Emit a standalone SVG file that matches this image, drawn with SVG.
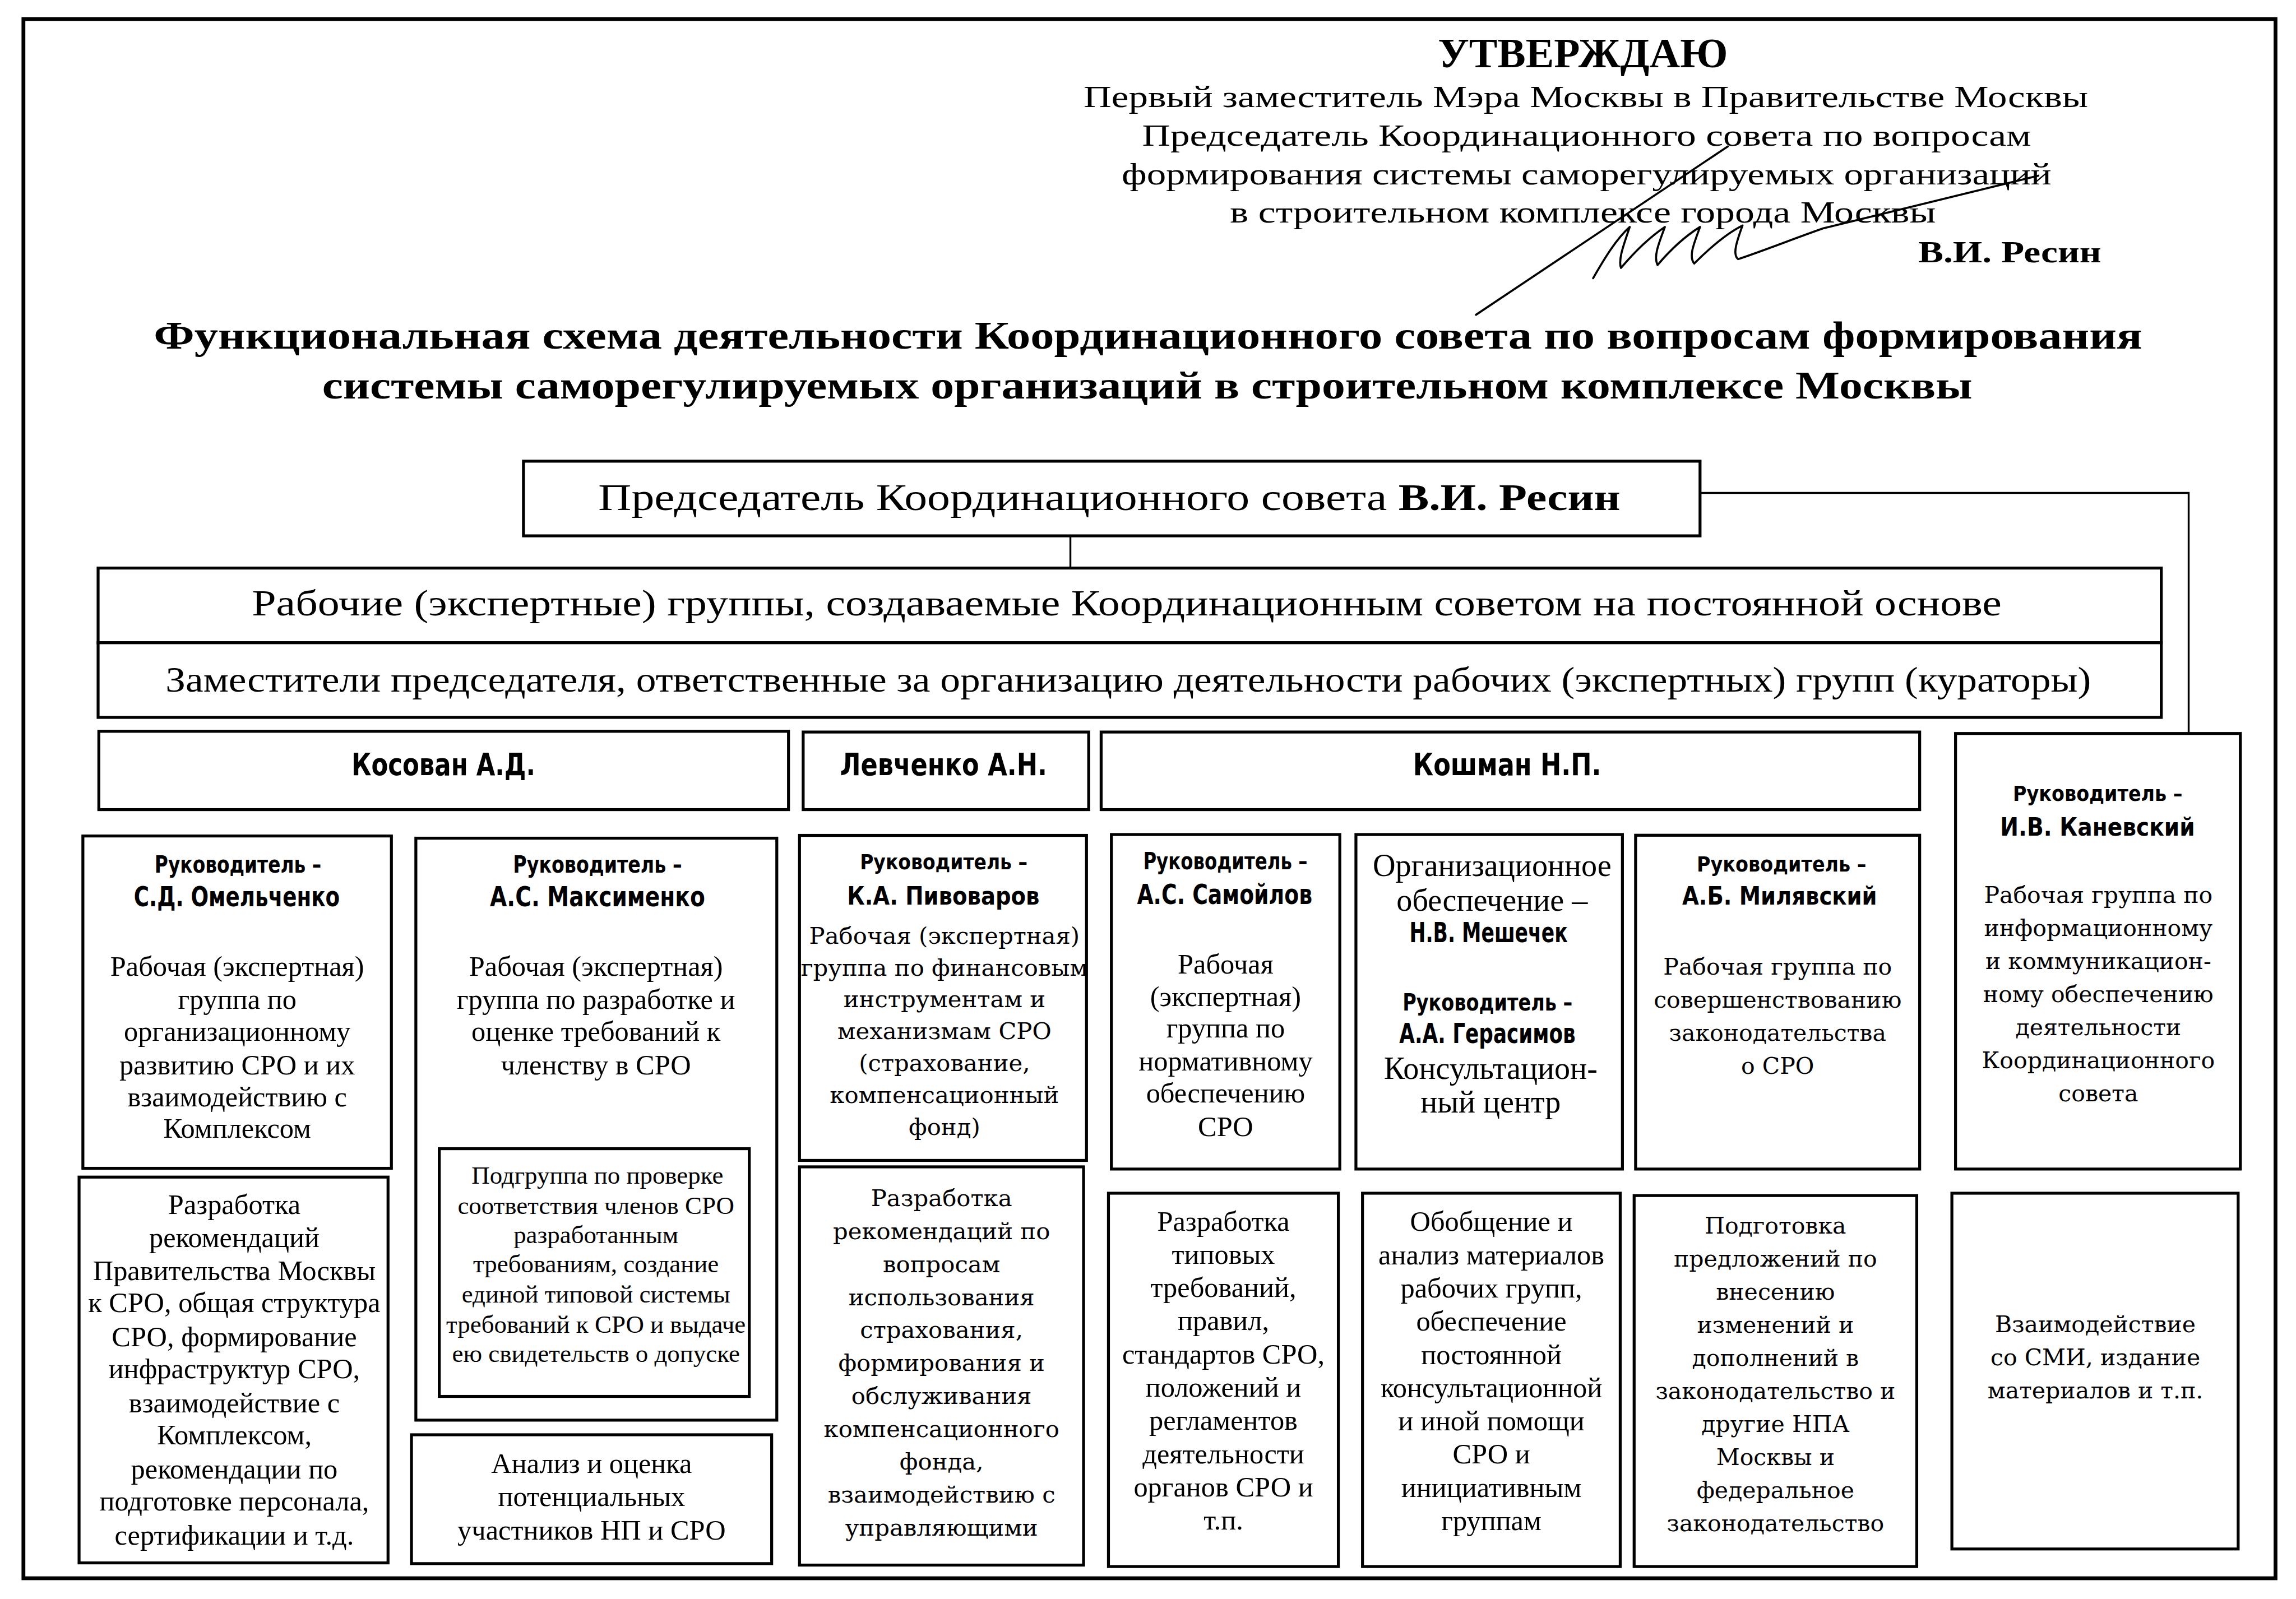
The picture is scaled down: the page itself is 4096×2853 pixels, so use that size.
<svg xmlns="http://www.w3.org/2000/svg" width="4096" height="2853" viewBox="0 0 4096 2853">
<style>
.box{fill:#fff;stroke:#000;stroke-width:2}
.frame{fill:none;stroke:#000;stroke-width:2.6}
.con{fill:none;stroke:#000;stroke-width:1.3}
.sig{fill:none;stroke:#000;stroke-width:1.4;stroke-linecap:round;stroke-linejoin:round}
text{fill:#000}
.tr{font-family:'Liberation Serif','Times New Roman',serif}
.trb{font-family:'Liberation Serif','Times New Roman',serif;font-weight:bold}
.body{font-family:'Liberation Serif','Times New Roman',serif;font-size:19.3px;text-anchor:middle}
.small{font-family:'Liberation Serif','Times New Roman',serif;font-size:17.2px;text-anchor:middle}
.big{font-family:'Liberation Serif','Times New Roman',serif;font-size:21.5px;text-anchor:middle}
.cond{font-family:'Liberation Sans Narrow','DejaVu Sans Condensed','Liberation Sans',sans-serif;font-weight:bold}
.heavy{font-family:'DejaVu Sans','Liberation Sans',sans-serif;font-weight:bold}
.wide{font-family:'DejaVu Serif','Liberation Serif',serif;font-size:16px;text-anchor:middle}
.wide2{font-family:'DejaVu Serif','Liberation Serif',serif;font-size:15.7px;text-anchor:middle}
</style>
<rect x="0" y="0" width="4096" height="2853" fill="#fff"/>
<g transform="scale(2.61224)">
<rect class="frame" x="16" y="13" width="1538" height="1065"/>

<g id="approval">
<text class="trb" x="982" y="46" font-size="28" textLength="198" lengthAdjust="spacingAndGlyphs">УТВЕРЖДАЮ</text>
<text class="tr" x="740" y="73" font-size="21" textLength="686" lengthAdjust="spacingAndGlyphs">Первый заместитель Мэра Москвы в Правительстве Москвы</text>
<text class="tr" x="780" y="99.5" font-size="21" textLength="607" lengthAdjust="spacingAndGlyphs">Председатель Координационного совета по вопросам</text>
<text class="tr" x="766" y="126" font-size="21" textLength="635" lengthAdjust="spacingAndGlyphs">формирования системы саморегулируемых организаций</text>
<text class="tr" x="840" y="152" font-size="21" textLength="482" lengthAdjust="spacingAndGlyphs">в строительном комплексе города Москвы</text>
<text class="trb" x="1310" y="179" font-size="21" textLength="125" lengthAdjust="spacingAndGlyphs">В.И. Ресин</text>
<path class="sig" d="M1008,215 L1180,100"/>
<path class="sig" d="M1088,190 C1096,176 1104,163 1113,155 C1109,167 1105,177 1107,183 C1118,170 1128,161 1137,155 C1133,166 1129,175 1132,181 C1143,168 1153,160 1161,155 C1157,166 1153,175 1157,180 C1170,167 1180,159 1190,154 C1186,165 1183,174 1187,177 C1205,171 1225,163 1245,156 L1392,120"/>
</g>

<g id="title">
<text class="trb" x="105" y="238" font-size="27" textLength="1358" lengthAdjust="spacingAndGlyphs">Функциональная схема деятельности Координационного совета по вопросам формирования</text>
<text class="trb" x="220" y="272" font-size="27" textLength="1127" lengthAdjust="spacingAndGlyphs">системы саморегулируемых организаций в строительном комплексе Москвы</text>
</g>

<g id="connectors">
<line class="con" x1="731" y1="366" x2="731" y2="388"/>
<polyline class="con" points="1161,336.7 1494.7,336.7 1494.7,501"/>
</g>

<g id="chairman">
<rect class="box" x="357.5" y="315" width="803.5" height="51"/>
<text class="tr" x="408.6" y="348.5" font-size="26" textLength="698" lengthAdjust="spacingAndGlyphs">Председатель Координационного совета <tspan class="trb">В.И. Ресин</tspan></text>
</g>

<g id="working-groups">
<rect class="box" x="67" y="388" width="1409" height="51"/>
<text class="tr" x="172" y="420.5" font-size="25" textLength="1195" lengthAdjust="spacingAndGlyphs">Рабочие (экспертные) группы, создаваемые Координационным советом на постоянной основе</text>
</g>
<g id="deputies">
<rect class="box" x="67" y="439" width="1409" height="51"/>
<text class="tr" x="113" y="472.5" font-size="24" textLength="1315" lengthAdjust="spacingAndGlyphs">Заместители председателя, ответственные за организацию деятельности рабочих (экспертных) групп (кураторы)</text>
</g>

<g id="curator-kosovan">
<rect class="box" x="67.5" y="499.5" width="471" height="53.5"/>
<text class="cond" x="240" y="529.5" font-size="21" textLength="125.6" lengthAdjust="spacingAndGlyphs">Косован А.Д.</text>
</g>
<g id="curator-levchenko">
<rect class="box" x="548.5" y="500" width="195" height="53"/>
<text class="cond" x="573.6" y="529.5" font-size="21" textLength="141.5" lengthAdjust="spacingAndGlyphs">Левченко А.Н.</text>
</g>
<g id="curator-koshman">
<rect class="box" x="752" y="500" width="559" height="53"/>
<text class="cond" x="965" y="529.5" font-size="21" textLength="128.5" lengthAdjust="spacingAndGlyphs">Кошман Н.П.</text>
</g>

<g id="group-omelchenko">
<rect class="box" x="56.6" y="571" width="210.7" height="227"/>
<text class="cond" x="105.6" y="596" font-size="16" textLength="113.8" lengthAdjust="spacingAndGlyphs">Руководитель –</text>
<text class="cond" x="91.4" y="619" font-size="19" textLength="140.6" lengthAdjust="spacingAndGlyphs">С.Д. Омельченко</text>
<text class="body" x="162" y="666.5">Рабочая (экспертная)</text>
<text class="body" x="162" y="689">группа по</text>
<text class="body" x="162" y="711">организационному</text>
<text class="body" x="162" y="734">развитию СРО и их</text>
<text class="body" x="162" y="755.5">взаимодействию с</text>
<text class="body" x="162" y="777">Комплексом</text>
</g>
<g id="task-omelchenko">
<rect class="box" x="54" y="804" width="211" height="263.5"/>
<text class="body" x="160" y="829.3">Разработка</text>
<text class="body" x="160" y="851.9">рекомендаций</text>
<text class="body" x="160" y="874.4">Правительства Москвы</text>
<text class="body" x="160" y="896">к СРО, общая структура</text>
<text class="body" x="160" y="919.6">СРО, формирование</text>
<text class="body" x="160" y="941.2">инфраструктур СРО,</text>
<text class="body" x="160" y="964.7">взаимодействие с</text>
<text class="body" x="160" y="986.4">Комплексом,</text>
<text class="body" x="160" y="1009.8">рекомендации по</text>
<text class="body" x="160" y="1031.5">подготовке персонала,</text>
<text class="body" x="160" y="1055">сертификации  и т.д.</text>
</g>

<g id="group-maksimenko">
<rect class="box" x="284" y="572.5" width="246.5" height="397.5"/>
<text class="cond" x="350.4" y="596" font-size="16" textLength="115.3" lengthAdjust="spacingAndGlyphs">Руководитель –</text>
<text class="cond" x="334.6" y="619" font-size="19" textLength="146.9" lengthAdjust="spacingAndGlyphs">А.С. Максименко</text>
<text class="body" x="407" y="666.5">Рабочая (экспертная)</text>
<text class="body" x="407" y="689">группа по разработке и</text>
<text class="body" x="407" y="711">оценке требований к</text>
<text class="body" x="407" y="734">членству в СРО</text>
</g>
<g id="subgroup-maksimenko">
<rect class="box" x="300" y="784.6" width="211.7" height="169.2"/>
<text class="small" x="408" y="808.5">Подгруппа по проверке</text>
<text class="small" x="407" y="829.3">соответствия членов СРО</text>
<text class="small" x="407" y="849.2">разработанным</text>
<text class="small" x="407" y="869">требованиям, создание</text>
<text class="small" x="407" y="889.8">единой типовой системы</text>
<text class="small" x="407" y="910.5">требований к СРО и выдаче</text>
<text class="small" x="407" y="930.4">ею свидетельств о допуске</text>
</g>
<g id="task-maksimenko">
<rect class="box" x="281" y="980" width="246" height="88"/>
<text class="body" x="404" y="1006.2">Анализ и оценка</text>
<text class="body" x="404" y="1028.8">потенциальных</text>
<text class="body" x="404" y="1051.4">участников НП и СРО</text>
</g>

<g id="group-pivovarov">
<rect class="box" x="546" y="570.6" width="196" height="222"/>
<text class="heavy" x="587.3" y="593.9" font-size="14" textLength="114.4" lengthAdjust="spacingAndGlyphs">Руководитель –</text>
<text class="heavy" x="578.5" y="618" font-size="17" textLength="131.4" lengthAdjust="spacingAndGlyphs">К.А. Пивоваров</text>
<text class="wide" x="645" y="644.5">Рабочая (экспертная)</text>
<text class="wide" x="645" y="666.3">группа по финансовым</text>
<text class="wide" x="645" y="688.1">инструментам и</text>
<text class="wide" x="645" y="709.9">механизмам СРО</text>
<text class="wide" x="645" y="731.7">(страхование,</text>
<text class="wide" x="645" y="753.5">компенсационный</text>
<text class="wide" x="645" y="775.3">фонд)</text>
</g>
<g id="task-pivovarov">
<rect class="box" x="546" y="797" width="194" height="272"/>
<text class="wide" x="643" y="823.9">Разработка</text>
<text class="wide" x="643" y="846.4">рекомендаций по</text>
<text class="wide" x="643" y="868.9">вопросам</text>
<text class="wide" x="643" y="891.4">использования</text>
<text class="wide" x="643" y="913.9">страхования,</text>
<text class="wide" x="643" y="936.4">формирования и</text>
<text class="wide" x="643" y="958.9">обслуживания</text>
<text class="wide" x="643" y="981.4">компенсационного</text>
<text class="wide" x="643" y="1003.9">фонда,</text>
<text class="wide" x="643" y="1026.4">взаимодействию с</text>
<text class="wide" x="643" y="1048.9">управляющими</text>
</g>

<g id="group-samoilov">
<rect class="box" x="759" y="570" width="156" height="228.5"/>
<text class="cond" x="780.7" y="593.6" font-size="16" textLength="112.2" lengthAdjust="spacingAndGlyphs">Руководитель –</text>
<text class="cond" x="776.5" y="617.4" font-size="19" textLength="119.7" lengthAdjust="spacingAndGlyphs">А.С. Самойлов</text>
<text class="body" x="837" y="665">Рабочая</text>
<text class="body" x="837" y="687">(экспертная)</text>
<text class="body" x="837" y="708.7">группа по</text>
<text class="body" x="837" y="731">нормативному</text>
<text class="body" x="837" y="753">обеспечению</text>
<text class="body" x="837" y="776">СРО</text>
</g>
<g id="task-samoilov">
<rect class="box" x="757" y="815" width="157" height="255"/>
<text class="body" x="835.5" y="840.5">Разработка</text>
<text class="body" x="835.5" y="863.2">типовых</text>
<text class="body" x="835.5" y="885.9">требований,</text>
<text class="body" x="835.5" y="908.6">правил,</text>
<text class="body" x="835.5" y="931.3">стандартов СРО,</text>
<text class="body" x="835.5" y="954">положений и</text>
<text class="body" x="835.5" y="976.7">регламентов</text>
<text class="body" x="835.5" y="999.4">деятельности</text>
<text class="body" x="835.5" y="1022.1">органов СРО и</text>
<text class="body" x="835.5" y="1044.8">т.п.</text>
</g>

<g id="group-meshechek">
<rect class="box" x="926" y="570" width="182" height="228.5"/>
<text class="big" x="1019" y="598.2">Организационное</text>
<text class="big" x="1019" y="622">обеспечение –</text>
<text class="cond" x="962.6" y="643.5" font-size="19" textLength="108" lengthAdjust="spacingAndGlyphs">Н.В. Мешечек</text>
<text class="cond" x="957.9" y="690.3" font-size="16" textLength="116" lengthAdjust="spacingAndGlyphs">Руководитель –</text>
<text class="cond" x="955.6" y="712.6" font-size="19" textLength="120.4" lengthAdjust="spacingAndGlyphs">А.А. Герасимов</text>
<text class="big" x="1018" y="737">Консультацион-</text>
<text class="big" x="1018" y="760">ный центр</text>
</g>
<g id="task-meshechek">
<rect class="box" x="930.5" y="815" width="176" height="255"/>
<text class="body" x="1018.5" y="840.8">Обобщение и</text>
<text class="body" x="1018.5" y="863.5">анализ материалов</text>
<text class="body" x="1018.5" y="886.2">рабочих групп,</text>
<text class="body" x="1018.5" y="908.9">обеспечение</text>
<text class="body" x="1018.5" y="931.6">постоянной</text>
<text class="body" x="1018.5" y="954.3">консультационной</text>
<text class="body" x="1018.5" y="977">и иной помощи</text>
<text class="body" x="1018.5" y="999.7">СРО и</text>
<text class="body" x="1018.5" y="1022.4">инициативным</text>
<text class="body" x="1018.5" y="1045.1">группам</text>
</g>

<g id="group-milyavsky">
<rect class="box" x="1117" y="570.5" width="194" height="228"/>
<text class="heavy" x="1158.8" y="595.3" font-size="14" textLength="115.8" lengthAdjust="spacingAndGlyphs">Руководитель –</text>
<text class="heavy" x="1148.8" y="617.8" font-size="17" textLength="133" lengthAdjust="spacingAndGlyphs">А.Б. Милявский</text>
<text class="wide2" x="1214" y="665.6">Рабочая группа по</text>
<text class="wide2" x="1214" y="688.2">совершенствованию</text>
<text class="wide2" x="1214" y="710.8">законодательства</text>
<text class="wide2" x="1214" y="733.4">о СРО</text>
</g>
<g id="task-milyavsky">
<rect class="box" x="1116" y="816.6" width="193" height="253.4"/>
<text class="wide2" x="1212.5" y="842.4">Подготовка</text>
<text class="wide2" x="1212.5" y="865">предложений по</text>
<text class="wide2" x="1212.5" y="887.6">внесению</text>
<text class="wide2" x="1212.5" y="910.2">изменений и</text>
<text class="wide2" x="1212.5" y="932.8">дополнений в</text>
<text class="wide2" x="1212.5" y="955.4">законодательство и</text>
<text class="wide2" x="1212.5" y="978">другие НПА</text>
<text class="wide2" x="1212.5" y="1000.6">Москвы и</text>
<text class="wide2" x="1212.5" y="1023.2">федеральное</text>
<text class="wide2" x="1212.5" y="1045.8">законодательство</text>
</g>

<g id="group-kanevsky">
<rect class="box" x="1335.5" y="501" width="194.5" height="297.5"/>
<text class="heavy" x="1374.7" y="547.1" font-size="14" textLength="115.8" lengthAdjust="spacingAndGlyphs">Руководитель –</text>
<text class="heavy" x="1366" y="570.8" font-size="17" textLength="133" lengthAdjust="spacingAndGlyphs">И.В. Каневский</text>
<text class="wide2" x="1433" y="616.7">Рабочая группа по</text>
<text class="wide2" x="1433" y="639.3">информационному</text>
<text class="wide2" x="1433" y="661.9">и коммуникацион-</text>
<text class="wide2" x="1433" y="684.5">ному обеспечению</text>
<text class="wide2" x="1433" y="707.1">деятельности</text>
<text class="wide2" x="1433" y="729.7">Координационного</text>
<text class="wide2" x="1433" y="752.3">совета</text>
</g>
<g id="task-kanevsky">
<rect class="box" x="1333" y="815" width="195.5" height="243"/>
<text class="wide2" x="1431" y="910">Взаимодействие</text>
<text class="wide2" x="1431" y="932.6">со СМИ, издание</text>
<text class="wide2" x="1431" y="955.2">материалов и т.п.</text>
</g>
</g>
</svg>
